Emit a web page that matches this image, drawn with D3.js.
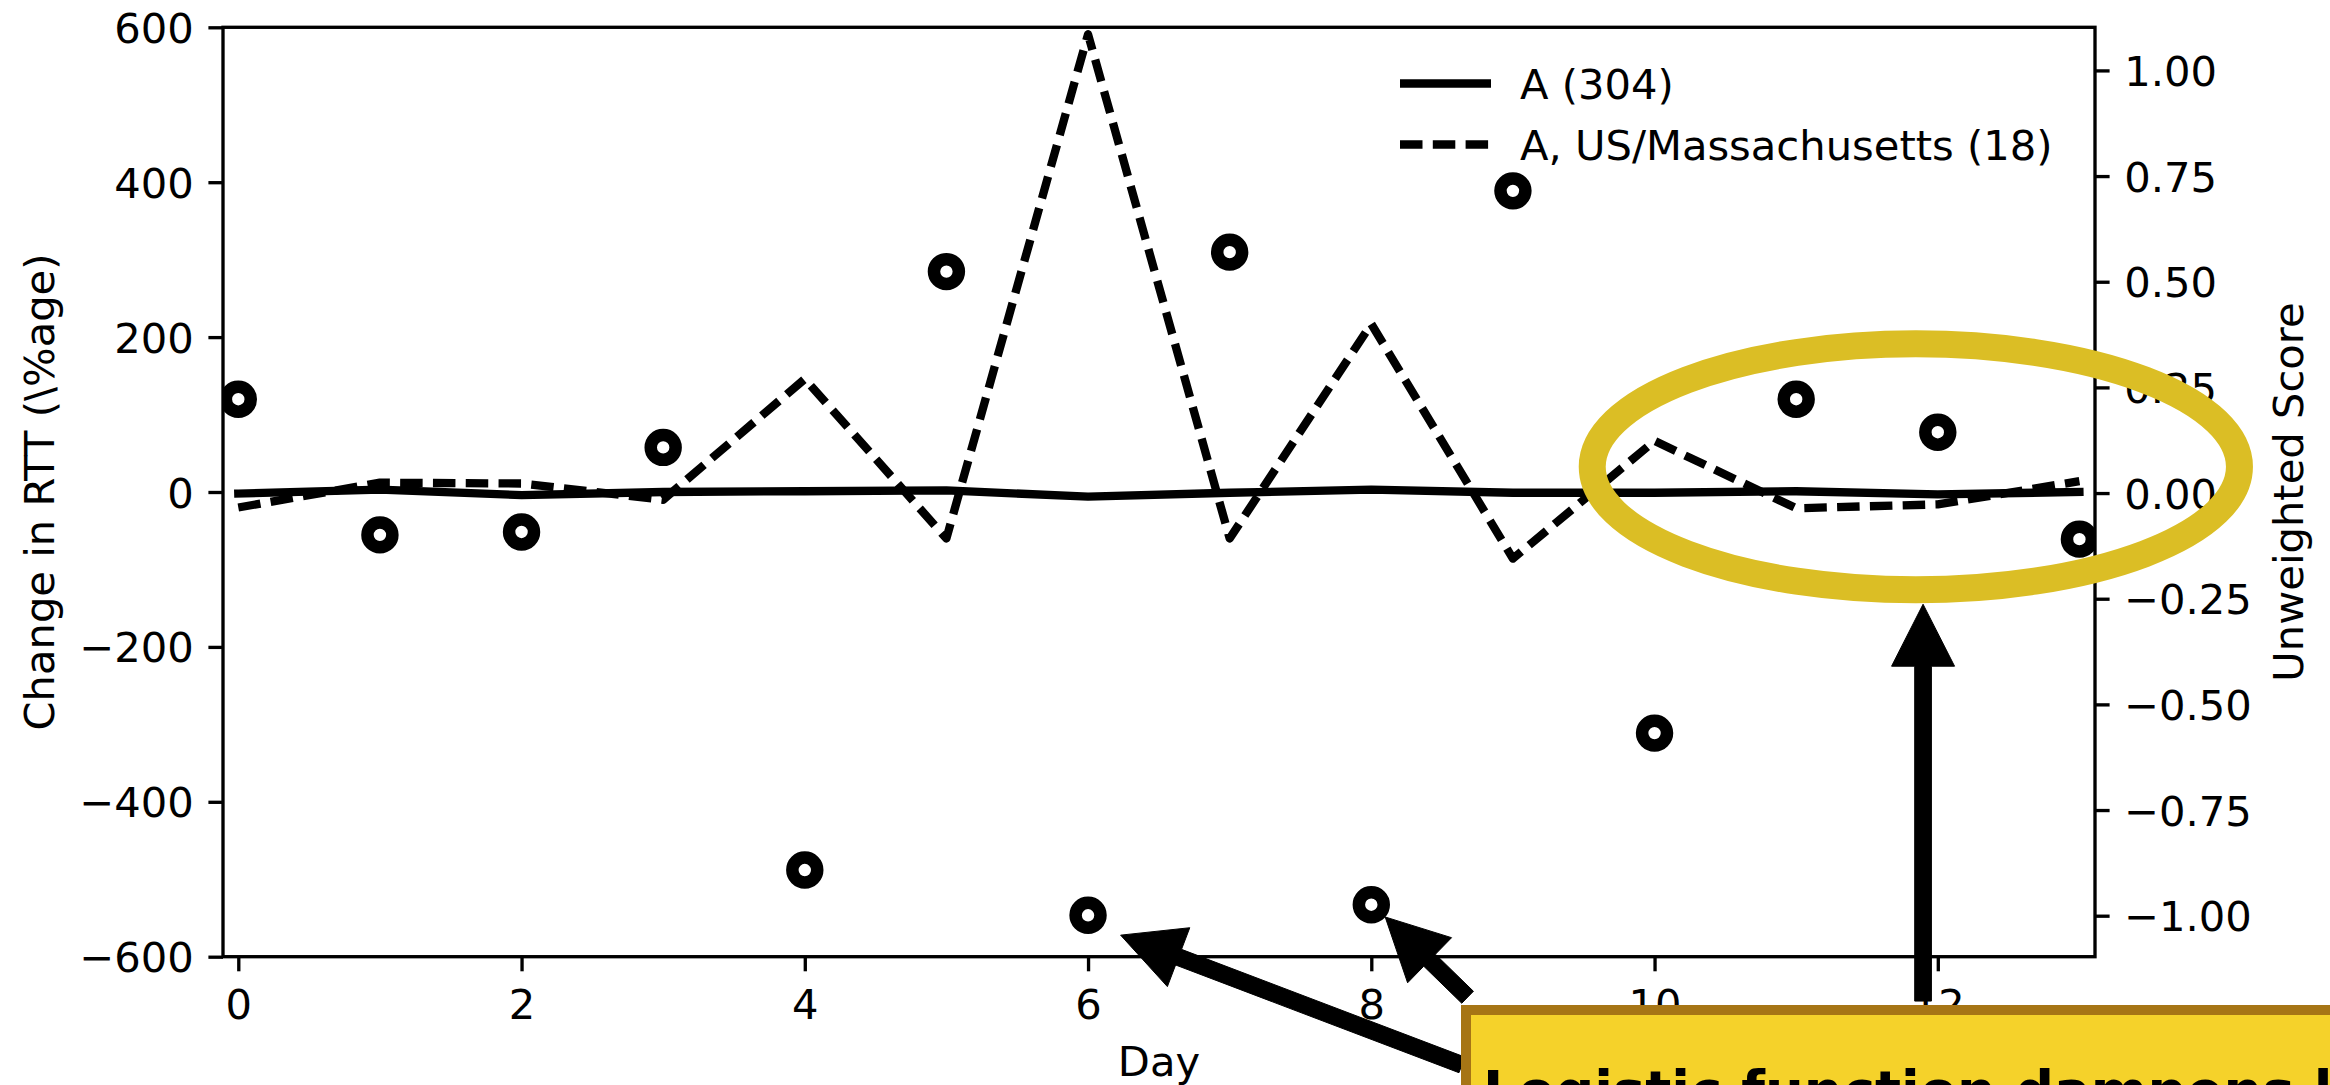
<!DOCTYPE html>
<html>
<head>
<meta charset="utf-8">
<script src="https://cdn.jsdelivr.net/npm/d3@7"></script>
<style>
  html, body { margin: 0; padding: 0; background: #ffffff; }
  svg { display: block; font-family: "DejaVu Sans", sans-serif; }
</style>
</head>
<body>
<svg id="chart" width="2330" height="1085"></svg>
<script>
// ---------------- data ----------------
const days = [0, 1, 2, 3, 4, 5, 6, 7, 8, 9, 10, 11, 12, 13];
const rttAll = [-2, 3, -4, 0, 1, 2, -6, -1, 3, -1, -1, 1, -3, 0];                 // A (304)
const rttMass = [-20, 12, 11, -10, 146, -60, 591, -60, 217, -86, 66, -21, -16, 14]; // A, US/Massachusetts (18)
const scores = [0.222, -0.099, -0.092, 0.108, -0.892, 0.524, -0.999, 0.570, -0.974, 0.715, -0.568, 0.222, 0.144, -0.109];
const xTicks = [0, 2, 4, 6, 8, 10, 12];
const leftTicks = [-600, -400, -200, 0, 200, 400, 600];
const rightTicks = [-1.0, -0.75, -0.5, -0.25, 0.0, 0.25, 0.5, 0.75, 1.0];
const legendLabels = ["A (304)", "A, US/Massachusetts (18)"];
const xLabel = "Day";
const leftLabel = "Change in RTT (\\%age)";
const rightLabel = "Unweighted Score";
const noteText = "Logistic function dampens large swings";
// annotation arrows: [tailDay, tailScore, tipDay, tipScore]
const arrowDays = [[8.64, 8.68, 11.896], [6.23, 8.098, 11.896]];
const arrowScores = [[-1.353, -1.193, -1.202], [-1.046, -1.003, -0.263]];
// highlight ellipse (data units): centre day, centre score, half-width days, half-height score
const ellipseSpec = [11.845, 0.062, 2.285, 0.291];

// ---------------- layout ----------------
const FS = 41.67;            // 10pt @ 300 dpi
const LW = 8.33;             // 2pt line width
const DASH = "22.5 10.3";
const svg = d3.select("#chart");
const L = 223, R = 2095, T = 27.3, B = 956.7;
const x = d3.scaleLinear().domain([-0.108, 13.11]).range([L, R]);
const yL = d3.scaleLinear().domain([-600, 600]).range([B, T]);
const yR = d3.scaleLinear().domain([-1.097, 1.102]).range([B, T]);
const fmtR = v => d3.format(".2f")(v).replace("-", "\u2212");
const fmtL = v => String(v).replace("-", "\u2212");

svg.append("rect").attr("width", 2330).attr("height", 1085).attr("fill", "#fff");

const defs = svg.append("defs");
defs.append("clipPath").attr("id", "plotclip")
  .append("rect").attr("x", L).attr("y", T).attr("width", R - L).attr("height", B - T);

// ---------------- lines ----------------
const plot = svg.append("g").attr("clip-path", "url(#plotclip)");
const lineL = d3.line().x((d, i) => x(days[i])).y(d => yL(d));
plot.append("path").datum(rttAll).attr("d", lineL)
  .attr("fill", "none").attr("stroke", "#000").attr("stroke-width", LW)
  .attr("stroke-linejoin", "round").attr("stroke-linecap", "square");
plot.append("path").datum(rttMass).attr("d", lineL)
  .attr("fill", "none").attr("stroke", "#000").attr("stroke-width", LW)
  .attr("stroke-dasharray", DASH).attr("stroke-linejoin", "round");

// ---------------- axes ----------------
function styleAxis(g) {
  g.selectAll(".domain").remove();
  g.selectAll(".tick line").attr("stroke", "#000").attr("stroke-width", 3.33);
  g.selectAll(".tick text").attr("fill", "#000").attr("font-size", FS)
    .attr("font-family", "DejaVu Sans");
}
const gx = svg.append("g").attr("transform", `translate(0,${B})`)
  .call(d3.axisBottom(x).tickValues(xTicks).tickSize(14.6).tickPadding(14.6).tickFormat(d3.format("d")));
styleAxis(gx);
gx.selectAll(".tick text").attr("dy", null).attr("y", 62);

const gl = svg.append("g").attr("transform", `translate(${L},0)`)
  .call(d3.axisLeft(yL).tickValues(leftTicks).tickSize(14.6).tickPadding(14.6).tickFormat(fmtL));
styleAxis(gl);
gl.selectAll(".tick text").attr("dy", "0.36em");

const gr = svg.append("g").attr("transform", `translate(${R},0)`)
  .call(d3.axisRight(yR).tickValues(rightTicks).tickSize(14.6).tickPadding(14.6).tickFormat(fmtR));
styleAxis(gr);
gr.selectAll(".tick text").attr("dy", "0.36em");

// frame
svg.append("rect").attr("x", L).attr("y", T).attr("width", R - L).attr("height", B - T)
  .attr("fill", "none").attr("stroke", "#000").attr("stroke-width", 3.33);

// axis labels
svg.append("text").attr("x", (L + R) / 2).attr("y", 1075.7).attr("text-anchor", "middle")
  .attr("font-size", FS).attr("fill", "#000").text(xLabel);
svg.append("text").attr("transform", `translate(53.5,${(T + B) / 2}) rotate(-90)`)
  .attr("text-anchor", "middle").attr("font-size", FS).attr("fill", "#000").text(leftLabel);
svg.append("text").attr("transform", `translate(2303,${(T + B) / 2}) rotate(-90)`)
  .attr("text-anchor", "middle").attr("font-size", FS).attr("fill", "#000").text(rightLabel);

// ---------------- scatter (right axis) ----------------
const marks = svg.append("g").attr("clip-path", "url(#plotclip)");
marks.selectAll("circle").data(scores).join("circle")
  .attr("cx", (d, i) => x(days[i])).attr("cy", d => yR(d))
  .attr("r", 12.45).attr("fill", "#fff").attr("stroke", "#000").attr("stroke-width", 12.5);

// ---------------- legend ----------------
const leg = svg.append("g");
const legY = [83.5, 144.5];
legendLabels.forEach((lab, i) => {
  leg.append("line").attr("x1", 1400).attr("x2", 1491).attr("y1", legY[i]).attr("y2", legY[i])
    .attr("stroke", "#000").attr("stroke-width", LW)
    .attr("stroke-dasharray", i === 1 ? DASH : null);
  leg.append("text").attr("x", 1520).attr("y", legY[i] + 15).attr("font-size", FS)
    .attr("fill", "#000").text(lab);
});

// ---------------- annotations ----------------
const [ecx, ecy, erx, ery] = ellipseSpec;
svg.append("ellipse")
  .attr("cx", x(ecx)).attr("cy", yR(ecy))
  .attr("rx", x(ecx + erx) - x(ecx)).attr("ry", yR(ecy - ery) - yR(ecy))
  .attr("fill", "none").attr("stroke", "#DBBE25").attr("stroke-width", 27);

function arrowPath(x0, y0, x1, y1) {
  const w = 16.7, hw = 63, hl = 62;
  const dx = x1 - x0, dy = y1 - y0, len = Math.hypot(dx, dy);
  const ux = dx / len, uy = dy / len, nx = -uy, ny = ux;
  const bx = x1 - ux * hl, by = y1 - uy * hl;
  const pts = [
    [x0 + nx * w / 2, y0 + ny * w / 2],
    [bx + nx * w / 2, by + ny * w / 2],
    [bx + nx * hw / 2, by + ny * hw / 2],
    [x1, y1],
    [bx - nx * hw / 2, by - ny * hw / 2],
    [bx - nx * w / 2, by - ny * w / 2],
    [x0 - nx * w / 2, y0 - ny * w / 2]
  ];
  return "M" + pts.map(p => p.join(",")).join("L") + "Z";
}
const arrows = svg.append("g");
arrowDays[0].forEach((td, i) => {
  arrows.append("path")
    .attr("d", arrowPath(x(td), yR(arrowScores[0][i]), x(arrowDays[1][i]), yR(arrowScores[1][i])))
    .attr("fill", "#000").attr("stroke", "#000").attr("stroke-width", 1);
});

// note box (extends beyond the canvas, as in the reference)
const boxX = 1466, boxY = 1010;
svg.append("rect").attr("x", boxX).attr("y", boxY).attr("width", 1200).attr("height", 200)
  .attr("fill", "#F5D22A").attr("stroke", "#A67515").attr("stroke-width", 10);
svg.append("text").attr("x", boxX + 17).attr("y", boxY + 99.7)
  .attr("font-size", 54.5).attr("font-weight", "bold").attr("fill", "#000").text(noteText);
</script>
</body>
</html>
